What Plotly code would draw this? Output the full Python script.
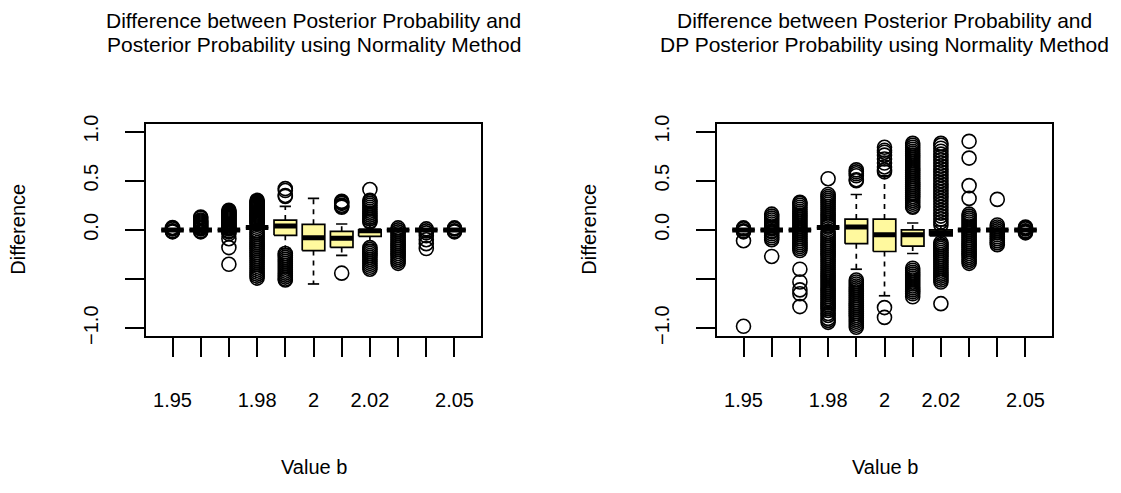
import plotly.graph_objects as go

# ---------------- data ----------------
b_values = [1.95, 1.96, 1.97, 1.98, 1.99, 2.00, 2.01, 2.02, 2.03, 2.04, 2.05]
x_tick_text = ["1.95", "", "", "1.98", "", "2", "", "2.02", "", "", "2.05"]
y_tick_vals = [-1.0, -0.5, 0.0, 0.5, 1.0]
y_tick_text = ["\u22121.0", "", "0.0", "0.5", "1.0"]

title_left = ["Difference between Posterior Probability and",
              "Posterior Probability using Normality Method"]
title_right = ["Difference between Posterior Probability and",
               "DP Posterior Probability using Normality Method"]
x_label = "Value b"
y_label = "Difference"

# left panel box statistics
left_med = [0, 0, 0, 0.023, 0.04, -0.08, -0.085, -0.01, 0, 0, 0]
left_q1 = [0, 0, 0, 0.023, -0.055, -0.21, -0.178, -0.065, 0, 0, 0]
left_q3 = [0, 0, 0, 0.023, 0.10, 0.057, -0.015, 0.0, 0, 0, 0]
left_wlo = [0, 0, 0, 0.023, -0.19, -0.55, -0.26, -0.15, 0, 0, 0]
left_whi = [0, 0, 0, 0.023, 0.24, 0.32, 0.06, 0.06, 0, 0, 0]
left_out = [
    [0.025, 0.015, 0.01, -0.01, -0.015, -0.02],
    [0.13, 0.12, 0.1, 0.09, 0.08, 0.07, 0.06, 0.05, 0.04, 0.03, 0.02, 0.01, -0.01, -0.02],
    [0.2, 0.19, 0.18, 0.17, 0.16, 0.15, 0.14, 0.13, 0.12, 0.11, 0.1, 0.09, 0.08, 0.07, 0.06,
     0.05, 0.04, 0.03, 0.02, 0.01, -0.01, -0.02, -0.04, -0.09, -0.18, -0.35],
    [0.3, 0.29, 0.28, 0.27, 0.26, 0.25, 0.24, 0.23, 0.22, 0.21, 0.2, 0.19, 0.18, 0.17, 0.16,
     0.15, 0.14, 0.13, 0.12, 0.11, 0.1, 0.09, 0.08, 0.07, 0.06,
     -0.01, -0.03, -0.05, -0.07, -0.09, -0.11, -0.13, -0.15, -0.17, -0.19, -0.21, -0.23,
     -0.25, -0.27, -0.29, -0.31, -0.33, -0.35, -0.37, -0.39, -0.41, -0.43, -0.45, -0.47, -0.49],
    [0.42, 0.40, 0.35, 0.34, -0.24, -0.26, -0.28, -0.3, -0.32, -0.34, -0.36, -0.38, -0.4,
     -0.42, -0.44, -0.46, -0.48, -0.5, -0.51],
    [],
    [0.29, 0.28, 0.27, 0.25, 0.24, 0.23, -0.44],
    [0.41, 0.3, 0.29, 0.27, 0.25, 0.23, 0.21, 0.19, 0.17, 0.15, 0.13, 0.11, 0.09, 0.08,
     -0.18, -0.2, -0.22, -0.24, -0.26, -0.28, -0.3, -0.32, -0.34, -0.36, -0.38, -0.4],
    [0.02, 0.0, -0.02, -0.04, -0.06, -0.08, -0.1, -0.12, -0.14, -0.16, -0.18, -0.2, -0.22,
     -0.24, -0.26, -0.28, -0.3, -0.32, -0.34],
    [0.01, -0.01, -0.03, -0.06, -0.1, -0.14, -0.19],
    [0.02, 0.01, -0.01, -0.02],
]

# right panel box statistics
right_med = [0, 0, 0, 0.023, 0.03, -0.05, -0.05, -0.03, 0, 0, 0]
right_q1 = [0, 0, 0, 0.023, -0.14, -0.22, -0.165, -0.06, 0, 0, 0]
right_q3 = [0, 0, 0, 0.023, 0.11, 0.11, 0.0, 0.0, 0, 0, 0]
right_wlo = [0, 0, 0, 0.023, -0.40, -0.67, -0.24, -0.10, 0, 0, 0]
right_whi = [0, 0, 0, 0.023, 0.36, 0.55, 0.07, 0.04, 0, 0, 0]
right_out = [
    [0.02, 0.01, -0.01, -0.02, -0.11, -0.98],
    [0.16, 0.14, 0.12, 0.1, 0.08, 0.06, 0.04, 0.02, 0.01, -0.01, -0.02, -0.04, -0.06, -0.08,
     -0.1, -0.27],
    [0.28, 0.27, 0.25, 0.23, 0.21, 0.19, 0.17, 0.15, 0.13, 0.11, 0.09, 0.07, 0.05, 0.03, 0.01,
     -0.01, -0.03, -0.05, -0.07, -0.09, -0.11, -0.13, -0.15, -0.17, -0.19, -0.21,
     -0.4, -0.53, -0.61, -0.65, -0.78],
    [0.52, 0.36, 0.34, 0.32, 0.3, 0.28, 0.26, 0.24, 0.22, 0.2, 0.18, 0.16, 0.14, 0.12, 0.1,
     0.08, 0.06, 0.04,
     -0.02, -0.04, -0.06, -0.08, -0.1, -0.12, -0.14, -0.16, -0.18, -0.2, -0.22, -0.24, -0.26,
     -0.28, -0.3, -0.32, -0.34, -0.36, -0.38, -0.4, -0.42, -0.44, -0.46, -0.48, -0.5, -0.52,
     -0.54, -0.56, -0.58, -0.6, -0.62, -0.64, -0.66, -0.68, -0.7, -0.72, -0.74, -0.76, -0.78,
     -0.8, -0.82, -0.85, -0.87, -0.9, -0.92, -0.94],
    [0.61, 0.59, 0.57, 0.55, 0.51, 0.5,
     -0.51, -0.53, -0.55, -0.57, -0.59, -0.61, -0.63, -0.65, -0.67, -0.69, -0.71, -0.73,
     -0.75, -0.77, -0.79, -0.81, -0.83, -0.85, -0.87, -0.89, -0.91, -0.93, -0.95, -0.97, -0.99],
    [0.84, 0.81, 0.79, 0.76, 0.72, 0.68, 0.64, 0.61, 0.59, -0.79, -0.89],
    [0.88, 0.86, 0.84, 0.82, 0.8, 0.78, 0.76, 0.74, 0.72, 0.7, 0.68, 0.66, 0.64, 0.62, 0.6,
     0.58, 0.56, 0.54, 0.52, 0.5, 0.48, 0.46, 0.44, 0.42, 0.4, 0.38, 0.36, 0.34, 0.32, 0.3,
     0.28, 0.26, 0.24, 0.23,
     -0.39, -0.41, -0.43, -0.45, -0.47, -0.49, -0.51, -0.53, -0.55, -0.57, -0.59, -0.61,
     -0.63, -0.65, -0.68],
    [0.88, 0.86, 0.83, 0.8, 0.77, 0.74, 0.71, 0.68, 0.65, 0.62, 0.59, 0.56, 0.53, 0.5, 0.47,
     0.44, 0.41, 0.38, 0.35, 0.32, 0.29, 0.26, 0.23, 0.2, 0.17, 0.14, 0.11, 0.08, 0.05,
     -0.13, -0.15, -0.17, -0.19, -0.21, -0.23, -0.25, -0.27, -0.29, -0.31, -0.33, -0.35,
     -0.37, -0.39, -0.41, -0.43, -0.45, -0.47, -0.49, -0.51, -0.53, -0.75],
    [0.9, 0.73, 0.45, 0.32, 0.16, 0.14, 0.12, 0.1, 0.08, 0.06, 0.04, 0.02, 0.0, -0.02, -0.04,
     -0.06, -0.08, -0.1, -0.12, -0.14, -0.16, -0.18, -0.2, -0.22, -0.24, -0.26, -0.28, -0.3,
     -0.32, -0.34],
    [0.31, 0.05, 0.03, 0.01, -0.01, -0.03, -0.05, -0.07, -0.09, -0.11, -0.13, -0.15],
    [0.03, 0.02, 0.01, -0.01, -0.02, -0.03],
]

# ---------------- styling ----------------
BOX_FILL = "#FFF99E"
FONT = "Liberation Sans, Arial, Helvetica, sans-serif"
FS = 20
FS_TITLE = 21
LW = 1.7
HALF = 0.4      # half box width (boxwex 0.8)
STAPLE = 0.2    # half staple width

fig = go.Figure()


def add_panel(med, q1, q3, wlo, whi, outs, xa, ya):
    pos = list(range(1, len(med) + 1))
    bx, by = [], []
    for p, a, b in zip(pos, q1, q3):
        bx += [p - HALF, p + HALF, p + HALF, p - HALF, p - HALF, None]
        by += [a, a, b, b, a, None]
    fig.add_trace(go.Scatter(x=bx, y=by, mode="lines", fill="toself", fillcolor=BOX_FILL,
                             line=dict(color="black", width=LW), xaxis=xa, yaxis=ya,
                             hoverinfo="skip", showlegend=False))
    mx, my = [], []
    for p, m in zip(pos, med):
        mx += [p - HALF, p + HALF, None]
        my += [m, m, None]
    fig.add_trace(go.Scatter(x=mx, y=my, mode="lines", line=dict(color="black", width=5),
                             xaxis=xa, yaxis=ya, hoverinfo="skip", showlegend=False))
    wx, wy = [], []
    for p, a, b, lo, hi in zip(pos, q1, q3, wlo, whi):
        wx += [p, p, None, p, p, None]
        wy += [b, hi, None, a, lo, None]
    fig.add_trace(go.Scatter(x=wx, y=wy, mode="lines",
                             line=dict(color="black", width=LW, dash="5px,5px"),
                             xaxis=xa, yaxis=ya, hoverinfo="skip", showlegend=False))
    sx, sy = [], []
    for p, lo, hi in zip(pos, wlo, whi):
        sx += [p - STAPLE, p + STAPLE, None, p - STAPLE, p + STAPLE, None]
        sy += [hi, hi, None, lo, lo, None]
    fig.add_trace(go.Scatter(x=sx, y=sy, mode="lines", line=dict(color="black", width=LW),
                             xaxis=xa, yaxis=ya, hoverinfo="skip", showlegend=False))
    ox, oy = [], []
    for p, vals in zip(pos, outs):
        ox += [p] * len(vals)
        oy += vals
    fig.add_trace(go.Scatter(x=ox, y=oy, mode="markers",
                             marker=dict(symbol="circle-open", size=14, color="black",
                                         line=dict(width=1.6, color="black")),
                             xaxis=xa, yaxis=ya, hoverinfo="skip", showlegend=False))


add_panel(left_med, left_q1, left_q3, left_wlo, left_whi, left_out, "x", "y")
add_panel(right_med, right_q1, right_q3, right_wlo, right_whi, right_out, "x2", "y2")

W, H = 1121, 493
ydom = [1 - 339.5 / H, 1 - 119 / H]
xdom_l = [146 / W, 481 / W]
xdom_r = [717 / W, 1052 / W]

xaxis_common = dict(range=[0.06, 11.94], tickmode="array", tickvals=list(range(1, 12)),
                    ticktext=x_tick_text, ticks="outside", ticklen=19, tickwidth=LW,
                    tickcolor="black", showline=True, linecolor="black", linewidth=LW,
                    mirror=True, showgrid=False, zeroline=False, ticklabelstandoff=26,
                    tickfont=dict(family=FONT, size=FS, color="black"))
yaxis_common = dict(range=[-1.08, 1.08], tickmode="array", tickvals=y_tick_vals,
                    ticktext=y_tick_text, ticks="outside", ticklen=19, tickwidth=LW,
                    tickcolor="black", showline=True, linecolor="black", linewidth=LW,
                    mirror=True, showgrid=False, zeroline=False, tickangle=-90,
                    ticklabelstandoff=19, domain=ydom,
                    tickfont=dict(family=FONT, size=FS, color="black"))

fig.update_layout(
    width=W, height=H, margin=dict(l=0, r=0, t=0, b=0),
    plot_bgcolor="white", paper_bgcolor="white", showlegend=False,
    xaxis=dict(domain=xdom_l, anchor="y", **xaxis_common),
    yaxis=dict(anchor="x", **yaxis_common),
    xaxis2=dict(domain=xdom_r, anchor="y2", **xaxis_common),
    yaxis2=dict(anchor="x2", **yaxis_common),
)

ann = []
for cx, lines in [((xdom_l[0] + xdom_l[1]) / 2, title_left),
                  ((xdom_r[0] + xdom_r[1]) / 2, title_right)]:
    for i, t in enumerate(lines):
        ann.append(dict(text=t, x=cx, y=1 - (12 + 24.5 * i) / H, xref="paper", yref="paper",
                        xanchor="center", yanchor="middle", showarrow=False,
                        font=dict(family=FONT, size=FS_TITLE, color="black")))
    ann.append(dict(text=x_label, x=cx, y=1 - 475 / H, xref="paper", yref="paper",
                    xanchor="center", yanchor="middle", showarrow=False,
                    font=dict(family=FONT, size=FS, color="black")))
for lx in [18, 18 + 571]:
    ann.append(dict(text=y_label, x=lx / W, y=1 - 229 / H, xref="paper", yref="paper",
                    xanchor="center", yanchor="middle", showarrow=False, textangle=-90,
                    font=dict(family=FONT, size=FS, color="black")))
fig.update_layout(annotations=ann)

fig.write_html("out.html", config={"displayModeBar": False},
               post_script="document.body.style.margin='0';document.body.style.padding='0';")
